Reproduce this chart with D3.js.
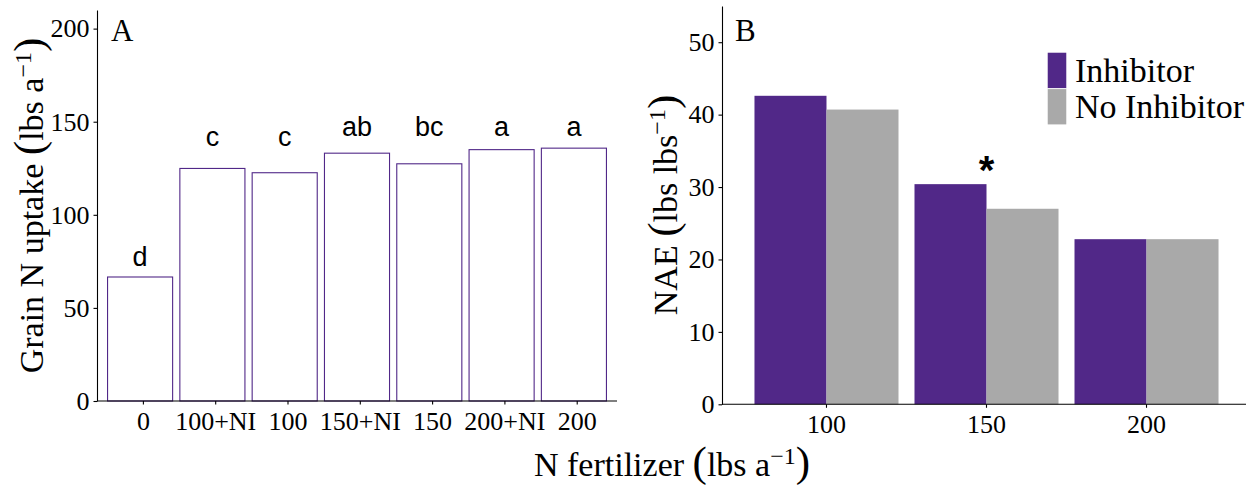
<!DOCTYPE html>
<html>
<head>
<meta charset="utf-8">
<script src="https://cdn.jsdelivr.net/npm/d3@7"></script>
<style>
html,body{margin:0;padding:0;background:#fff;}
svg{display:block;}
</style>
</head>
<body>
<svg id="chart" width="1257" height="487"></svg>
<script>
// ---- Panel A data ----
const catsA = ["0", "100+NI", "100", "150+NI", "150", "200+NI", "200"];
const uptake = [66.6, 124.9, 122.6, 133.1, 127.4, 135.0, 135.8];
const lettersA = ["d", "c", "c", "ab", "bc", "a", "a"];
const letterPosA = [72.4, 136.9, 136.9, 142.1, 142.1, 142.1, 142.1];
const ticksA = [0, 50, 100, 150, 200];

// ---- Panel B data ----
const groupsB = ["100", "150", "200"];
const seriesB = ["Inhibitor", "No Inhibitor"];
const inhibitor = [42.6, 30.4, 22.8];
const noInhibitor = [40.7, 27.0, 22.8];
const sigB = ["", "*", ""];
const sigPosB = [0, 30.4, 0];
const ticksB = [0, 10, 20, 30, 40, 50];

const PURPLE = "#512888", GRAY = "#a9a9a9";
const SERIF = "'Liberation Serif','Times New Roman',serif";
const SANS = "'Liberation Sans',Arial,Helvetica,sans-serif";

const svg = d3.select("#chart");

function styleAxis(g) {
  g.selectAll("path.domain").attr("stroke", "#000").attr("stroke-width", 1.1);
  g.selectAll(".tick line").attr("stroke", "#000").attr("stroke-width", 1.1);
  g.selectAll(".tick text").attr("font-family", SERIF).attr("font-size", 26).attr("fill", "#000");
}

function addTitle(parent, x, y, rotate, main, sup) {
  const t = parent.append("text")
    .attr("transform", `translate(${x},${y})` + (rotate ? " rotate(-90)" : ""))
    .attr("text-anchor", "middle")
    .attr("font-family", SERIF).attr("font-size", 34).attr("fill", "#000");
  t.append("tspan").text(main + " ");
  t.append("tspan").attr("font-size", 43).text("(");
  t.append("tspan").text(sup);
  t.append("tspan").attr("font-size", 24).attr("dy", -12).text("\u22121");
  t.append("tspan").attr("font-size", 43).attr("dy", 12).text(")");
  return t;
}

// ================= Panel A =================
const xA = d3.scaleBand().domain(catsA).range([97, 617]).paddingInner(0.1).paddingOuter(0.146);
const yA = d3.scaleLinear().domain([0, 210]).range([401, 10]);

const gA = svg.append("g");
gA.selectAll("rect.barA").data(catsA).join("rect")
  .attr("class", "barA")
  .attr("x", d => xA(d))
  .attr("width", xA.bandwidth())
  .attr("y", (d, i) => yA(uptake[i]))
  .attr("height", (d, i) => yA(0) - yA(uptake[i]))
  .attr("fill", "#fff").attr("stroke", PURPLE).attr("stroke-width", 1.1);

gA.selectAll("text.letter").data(catsA).join("text")
  .attr("class", "letter")
  .attr("x", d => xA(d) + xA.bandwidth() / 2)
  .attr("y", (d, i) => yA(letterPosA[i]))
  .attr("text-anchor", "middle")
  .attr("font-family", SANS).attr("font-size", 27).attr("fill", "#000")
  .text((d, i) => lettersA[i]);

const axYA = gA.append("g").attr("transform", "translate(97,0)")
  .call(d3.axisLeft(yA).tickValues(ticksA).tickSize(3.5).tickPadding(4).tickSizeOuter(0));
styleAxis(axYA);

const axXA = gA.append("g").attr("transform", "translate(3.3,401)")
  .call(d3.axisBottom(xA).tickSize(3.5).tickPadding(7).tickSizeOuter(0));
axXA.select("path.domain").remove();
styleAxis(axXA);
gA.append("line").attr("x1", 97).attr("x2", 617).attr("y1", 401).attr("y2", 401)
  .attr("stroke", "#000").attr("stroke-width", 1.1);

gA.append("text").attr("x", 111).attr("y", 41)
  .attr("font-family", SERIF).attr("font-size", 31).attr("fill", "#000").text("A");

addTitle(svg, 43, 205.5, true, "Grain N uptake", "lbs a");

// ================= Panel B =================
const xB = d3.scaleBand().domain(groupsB).range([726, 1247]).paddingInner(0.1).paddingOuter(0.178);
const xBin = d3.scaleBand().domain(seriesB).range([0, xB.bandwidth()]);
const yB = d3.scaleLinear().domain([0, 55]).range([404.3, 6]);
const colorB = d3.scaleOrdinal().domain(seriesB).range([PURPLE, GRAY]);

const rowsB = groupsB.flatMap((g, i) => [
  { group: g, series: seriesB[0], value: inhibitor[i] },
  { group: g, series: seriesB[1], value: noInhibitor[i] }
]);

const gB = svg.append("g");
gB.selectAll("rect.barB").data(rowsB).join("rect")
  .attr("class", "barB")
  .attr("x", d => xB(d.group) + xBin(d.series))
  .attr("width", xBin.bandwidth())
  .attr("y", d => yB(d.value))
  .attr("height", d => yB(0) - yB(d.value))
  .attr("fill", d => colorB(d.series));

gB.selectAll("text.sig").data(groupsB).join("text")
  .attr("class", "sig")
  .attr("x", d => xB(d) + xB.bandwidth() / 2)
  .attr("y", (d, i) => yB(sigPosB[i]))
  .attr("text-anchor", "middle")
  .attr("font-family", SANS).attr("font-weight", "bold").attr("font-size", 40).attr("fill", "#000")
  .text((d, i) => sigB[i]);

const axYB = gB.append("g").attr("transform", "translate(722,0)")
  .call(d3.axisLeft(yB).tickValues(ticksB).tickSize(3.5).tickPadding(4).tickSizeOuter(0));
styleAxis(axYB);

const axXB = gB.append("g").attr("transform", "translate(0,404.3)")
  .call(d3.axisBottom(xB).tickSize(3.5).tickPadding(7).tickSizeOuter(0));
axXB.select("path.domain").remove();
styleAxis(axXB);
gB.append("line").attr("x1", 722).attr("x2", 1246).attr("y1", 404.3).attr("y2", 404.3)
  .attr("stroke", "#000").attr("stroke-width", 1.1);

gB.append("text").attr("x", 735).attr("y", 41)
  .attr("font-family", SERIF).attr("font-size", 31).attr("fill", "#000").text("B");

addTitle(svg, 677, 205, true, "NAE", "lbs lbs");

// Legend
const leg = svg.append("g").attr("transform", "translate(1047.3,52.3)");
seriesB.forEach((s, i) => {
  leg.append("rect").attr("x", 0).attr("y", i * 36.5).attr("width", 19.4).attr("height", 36)
    .attr("fill", colorB(s)).attr("stroke", "#fff").attr("stroke-width", 0.6);
  leg.append("text").attr("x", 27.7).attr("y", i * 36.5 + 29.4)
    .attr("font-family", SERIF).attr("font-size", 34).attr("fill", "#000").text(s);
});

// Shared x title
addTitle(svg, 672, 476, false, "N fertilizer", "lbs a");
</script>
</body>
</html>
